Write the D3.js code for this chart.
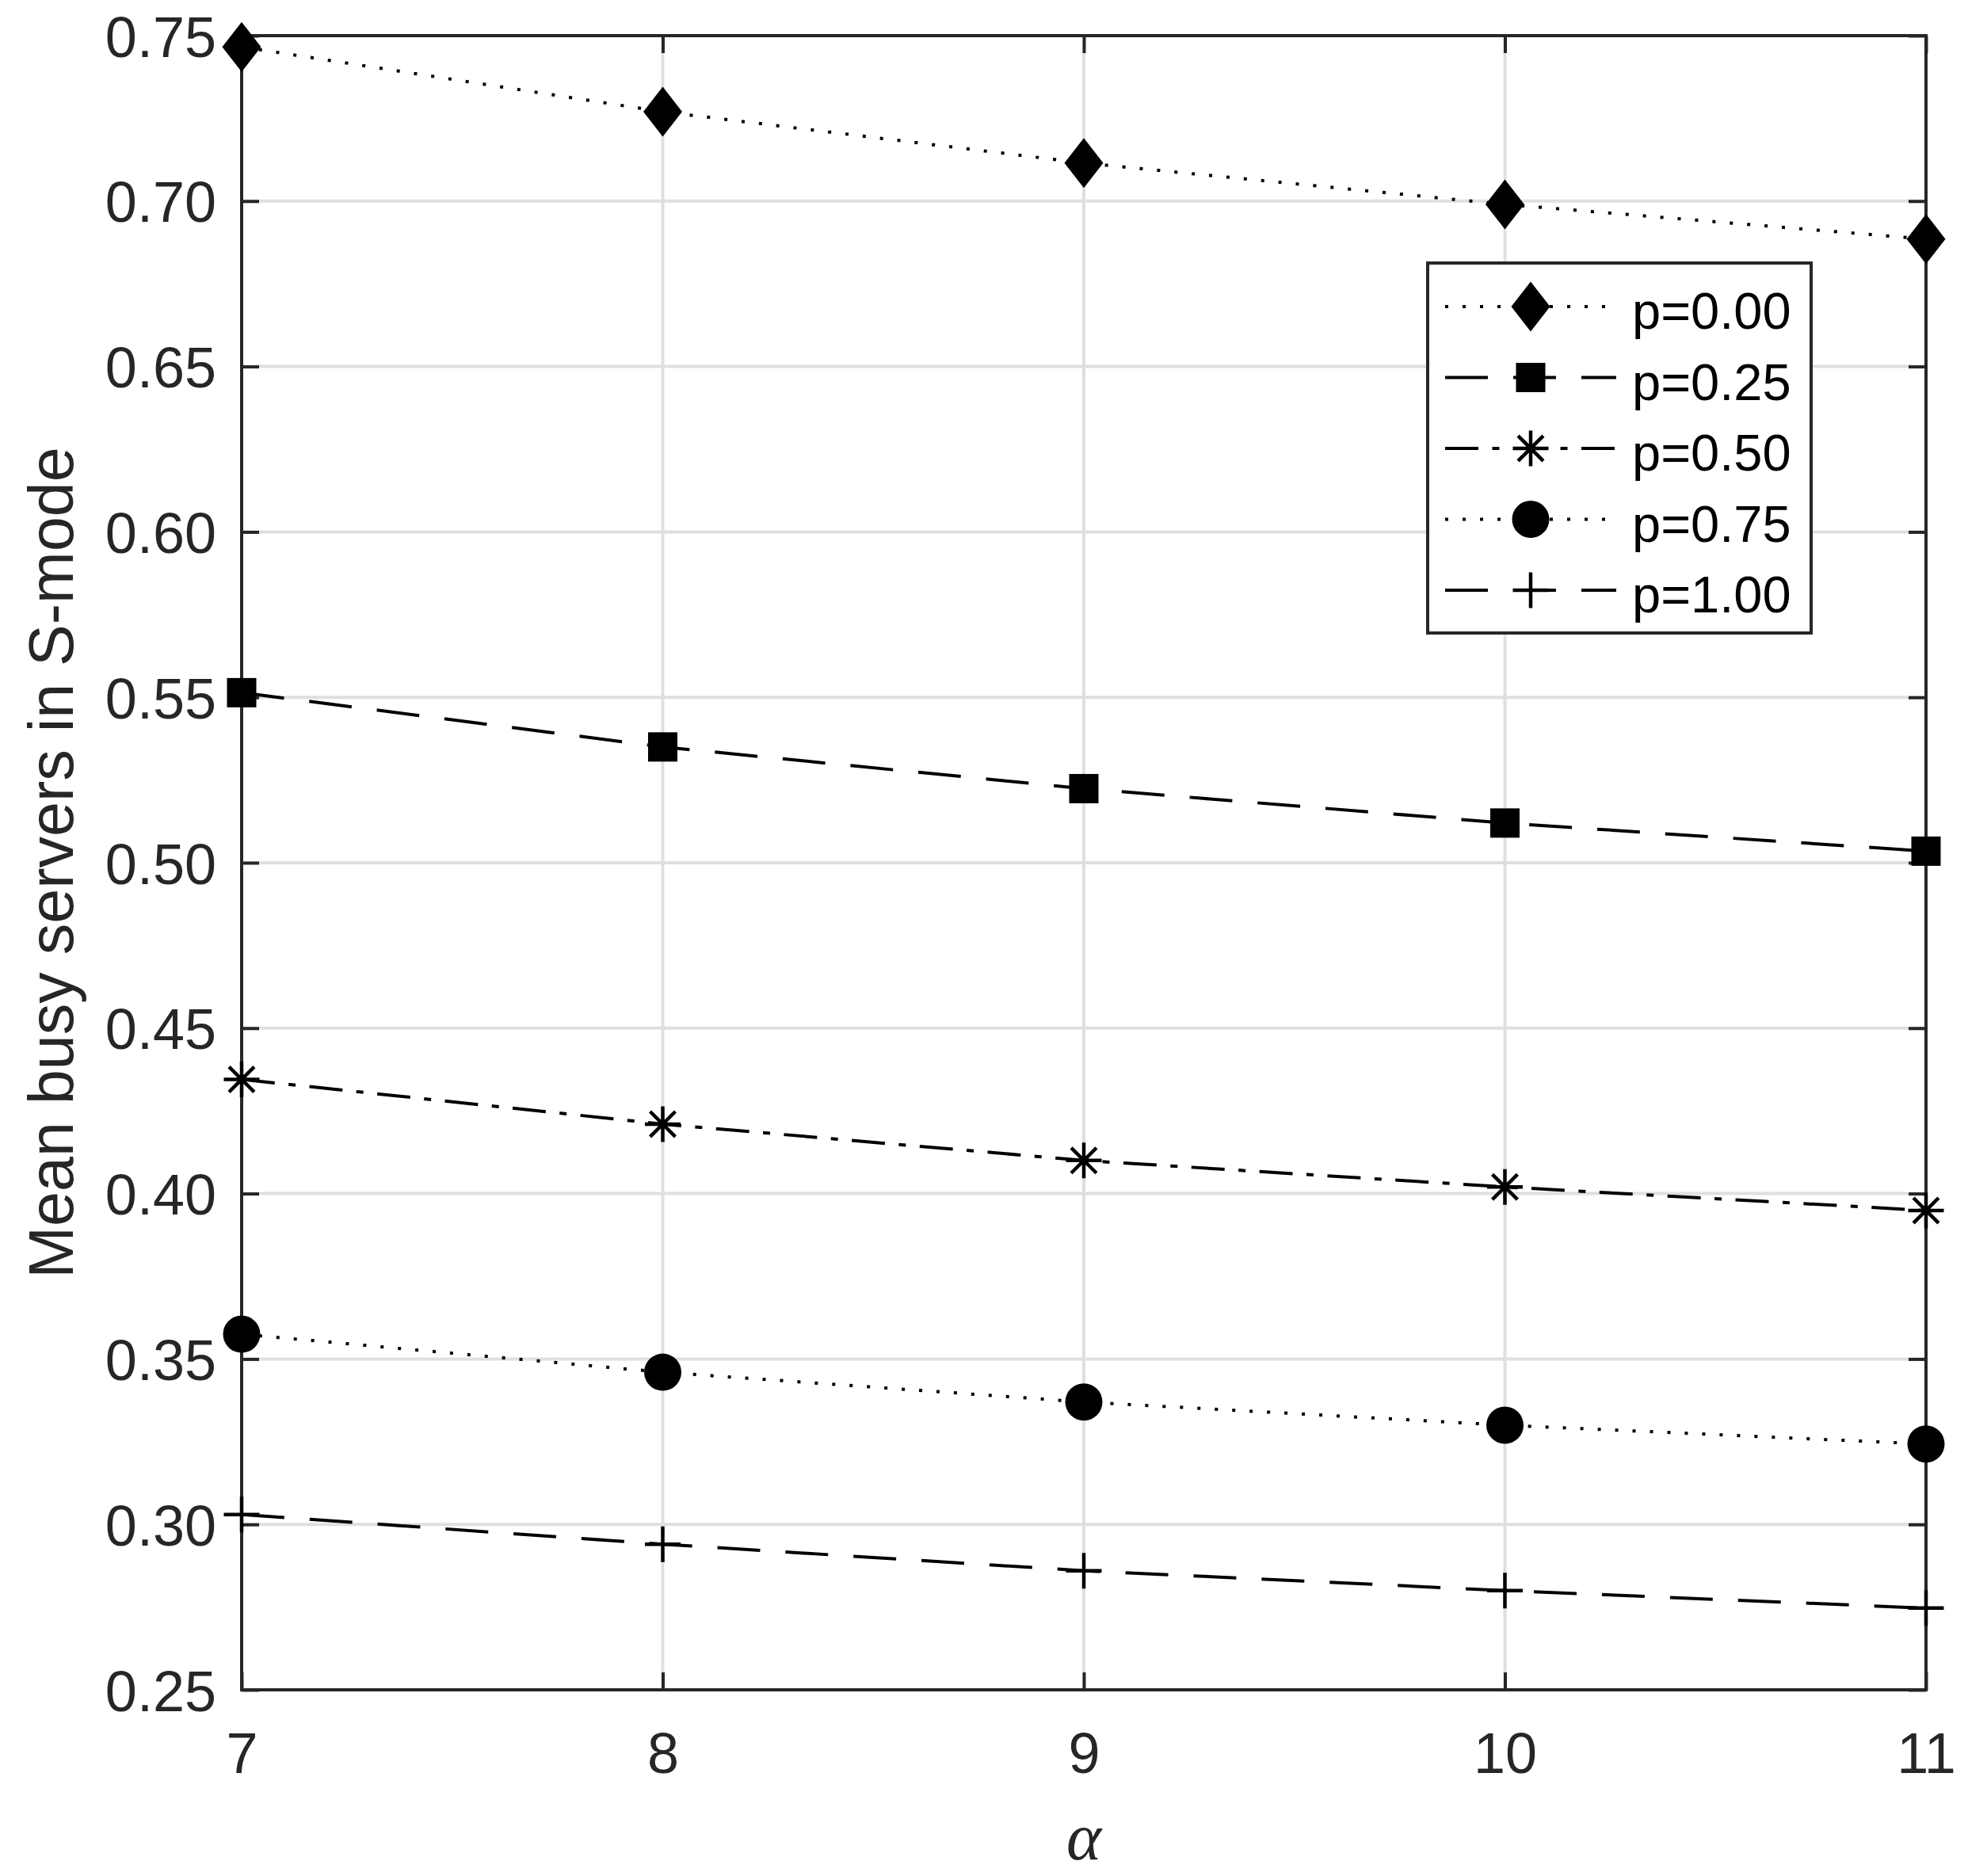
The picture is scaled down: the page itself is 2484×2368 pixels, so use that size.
<!DOCTYPE html>
<html><head><meta charset="utf-8">
<script src="https://cdn.jsdelivr.net/npm/d3@7"></script>
<style>body{margin:0;background:#fff}</style>
</head><body>
<svg id="c" width="2484" height="2368" xmlns="http://www.w3.org/2000/svg"></svg>
<script>
// ---- data ----
const alphaValues = [7, 8, 9, 10, 11];
const seriesNames = ["p=0.00", "p=0.25", "p=0.50", "p=0.75", "p=1.00"];
const p000 = [0.7466, 0.727, 0.7115, 0.699, 0.6885];
const p025 = [0.5514, 0.535, 0.5224, 0.512, 0.5035];
const p050 = [0.4345, 0.421, 0.410, 0.402, 0.3949];
const p075 = [0.3575, 0.346, 0.337, 0.330, 0.3243];
const p100 = [0.303, 0.294, 0.286, 0.280, 0.2747];
const xTicks = [7, 8, 9, 10, 11];
const yTicks = [0.25, 0.30, 0.35, 0.40, 0.45, 0.50, 0.55, 0.60, 0.65, 0.70, 0.75];
const xLabel = "α";
const yLabel = "Mean busy servers in S-mode";

const seriesValues = [p000, p025, p050, p075, p100];
const markerTypes = ["diamond", "square", "asterisk", "circle", "plus"];
const dashTypes = ["dotted", "dashed", "dashdot", "dotted", "dashed"];

// ---- layout ----
const L = 305, R = 2431, T = 45, B = 2133;
const axisColor = "#262626";
const svg = d3.select("#c");
const x = d3.scaleLinear().domain([7, 11]).range([L, R]);
const y = d3.scaleLinear().domain([0.25, 0.75]).range([B, T]);

const dashMap = { dotted: "4,18", dashed: "54,32", dashdot: "42,17.5,9,17.5" };

// grid
const grid = svg.append("g");
grid.selectAll("line.gx").data(xTicks).join("line")
  .attr("x1", d => x(d)).attr("x2", d => x(d)).attr("y1", T).attr("y2", B)
  .attr("stroke", "#dfdfdf").attr("stroke-width", 4);
grid.selectAll("line.gy").data(yTicks).join("line")
  .attr("y1", d => y(d)).attr("y2", d => y(d)).attr("x1", L).attr("x2", R)
  .attr("stroke", "#dfdfdf").attr("stroke-width", 4);

// axes with inward ticks
const tickLen = 22;
const ax = svg.append("g");
const bottomAxis = d3.axisBottom(x).tickValues(xTicks).tickFormat(d3.format("d")).tickSizeInner(-tickLen).tickSizeOuter(0).tickPadding(0);
const gB = ax.append("g").attr("transform", `translate(0,${B})`).call(bottomAxis);
const topAxis = d3.axisTop(x).tickValues(xTicks).tickFormat("").tickSizeInner(-tickLen).tickSizeOuter(0);
const gT = ax.append("g").attr("transform", `translate(0,${T})`).call(topAxis);
const leftAxis = d3.axisLeft(y).tickValues(yTicks).tickFormat(d3.format(".2f")).tickSizeInner(-tickLen).tickSizeOuter(0).tickPadding(0);
const gL = ax.append("g").attr("transform", `translate(${L},0)`).call(leftAxis);
const rightAxis = d3.axisRight(y).tickValues(yTicks).tickFormat("").tickSizeInner(-tickLen).tickSizeOuter(0);
const gR = ax.append("g").attr("transform", `translate(${R},0)`).call(rightAxis);
[gB, gT, gL, gR].forEach(g => {
  g.select(".domain").remove();
  g.selectAll(".tick line").attr("stroke", axisColor).attr("stroke-width", 4);
});
gB.selectAll(".tick text").attr("font-family", "'Liberation Sans', Arial, sans-serif")
  .attr("font-size", 72).attr("fill", axisColor).attr("dy", null).attr("y", 2238 - B)
  .attr("dominant-baseline", "alphabetic");
gL.selectAll(".tick text").attr("font-family", "'Liberation Sans', Arial, sans-serif")
  .attr("font-size", 72).attr("fill", axisColor).attr("dy", null).attr("x", 273 - L).attr("y", 26)
  .attr("text-anchor", "end").attr("dominant-baseline", "alphabetic");

// box
ax.append("rect").attr("x", L).attr("y", T).attr("width", R - L).attr("height", B - T)
  .attr("fill", "none").attr("stroke", axisColor).attr("stroke-width", 4);

// axis labels
svg.append("text").attr("x", x(9)).attr("y", 2347).attr("text-anchor", "middle")
  .attr("font-family", "'Liberation Serif', 'Times New Roman', serif").attr("font-style", "italic")
  .attr("font-size", 84).attr("fill", axisColor).text(xLabel);
svg.append("text").attr("transform", `translate(92,${(T + B) / 2}) rotate(-90)`)
  .attr("text-anchor", "middle").attr("font-family", "'Liberation Sans', Arial, sans-serif")
  .attr("font-size", 79).attr("fill", axisColor).text(yLabel);

// markers
function drawMarker(g, type, cx, cy) {
  const s = 4.5;
  if (type === "diamond") {
    g.append("path").attr("d", `M${cx},${cy - 31.5}L${cx + 24.5},${cy}L${cx},${cy + 31.5}L${cx - 24.5},${cy}Z`).attr("fill", "#000");
  } else if (type === "square") {
    g.append("rect").attr("x", cx - 18.5).attr("y", cy - 18.5).attr("width", 37).attr("height", 37).attr("fill", "#000");
  } else if (type === "circle") {
    g.append("circle").attr("cx", cx).attr("cy", cy).attr("r", 23.5).attr("fill", "#000");
  } else if (type === "plus") {
    g.append("path").attr("d", `M${cx - 22.5},${cy}H${cx + 22.5}M${cx},${cy - 22.5}V${cy + 22.5}`).attr("stroke", "#000").attr("stroke-width", s);
  } else if (type === "asterisk") {
    const r = 22.5, d = r * Math.SQRT1_2;
    g.append("path").attr("d", `M${cx - r},${cy}H${cx + r}M${cx},${cy - r}V${cy + r}M${cx - d},${cy - d}L${cx + d},${cy + d}M${cx - d},${cy + d}L${cx + d},${cy - d}`)
      .attr("stroke", "#000").attr("stroke-width", s);
  }
}

const line = d3.line().x((d, i) => x(alphaValues[i])).y(d => y(d));
const dataG = svg.append("g");
seriesValues.forEach((vals, k) => {
  dataG.append("path").attr("d", line(vals)).attr("fill", "none").attr("stroke", "#000")
    .attr("stroke-width", 4).attr("stroke-dasharray", dashMap[dashTypes[k]]);
});
const markG = svg.append("g");
seriesValues.forEach((vals, k) => {
  vals.forEach((v, i) => drawMarker(markG, markerTypes[k], x(alphaValues[i]), y(v)));
});

// legend
const lg = svg.append("g");
lg.append("rect").attr("x", 1802).attr("y", 332).attr("width", 484).attr("height", 467)
  .attr("fill", "#fff").attr("stroke", axisColor).attr("stroke-width", 4);
seriesNames.forEach((name, k) => {
  const ry = 387 + k * 89.5;
  lg.append("line").attr("x1", 1824).attr("x2", 2040).attr("y1", ry).attr("y2", ry)
    .attr("stroke", "#000").attr("stroke-width", 4).attr("stroke-dasharray", dashMap[dashTypes[k]]);
  drawMarker(lg, markerTypes[k], 1932, ry);
  lg.append("text").attr("x", 2060).attr("y", ry + 28)
    .attr("font-family", "'Liberation Sans', Arial, sans-serif").attr("font-size", 65)
    .attr("fill", "#000").text(name);
});
</script>
</body></html>
